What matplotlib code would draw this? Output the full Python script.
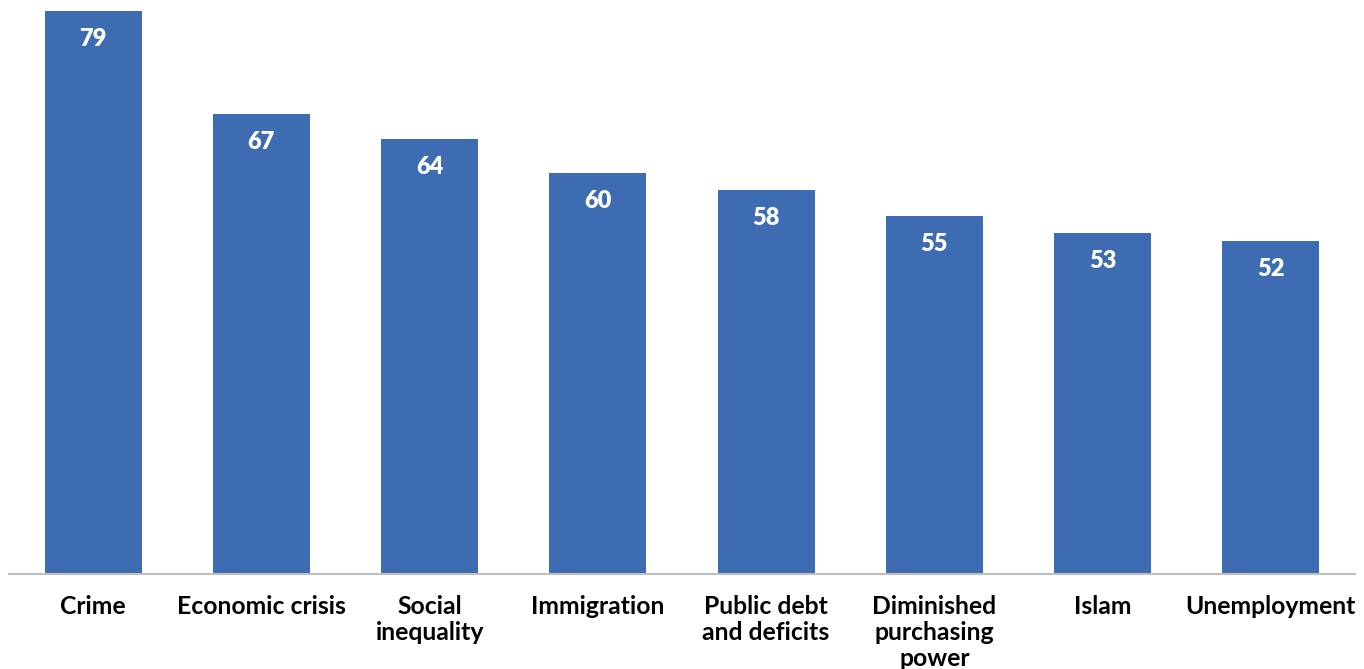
import matplotlib
matplotlib.use("Agg")
import matplotlib.pyplot as plt

categories = ["Crime", "Economic crisis", "Social\ninequality", "Immigration",
              "Public debt\nand deficits", "Diminished\npurchasing\npower", "Islam", "Unemployment"]
values = [79, 67, 64, 60, 58, 55, 53, 52]

bar_color = "#3E6CB2"
y_bottom = 13.0
px_per_unit = 230 / 27

fig = plt.figure(figsize=(13.64, 6.69), dpi=100)
ax = fig.add_axes([9/1364, (669-573.5)/669, (1355-9)/1364, 573.5/669])

x = list(range(len(categories)))
ax.bar(x, [v - y_bottom for v in values], bottom=y_bottom, width=0.577,
       color=bar_color, zorder=2)

for xi, v in zip(x, values):
    ax.text(xi, v - 3.3, str(v), ha="center", va="center", color="white",
            fontsize=17, fontweight="heavy", family="Lato")

ax.set_xlim(-0.5, 7.5)
ax.set_ylim(y_bottom, y_bottom + 573.5/px_per_unit)
ax.set_xticks(x)
ax.set_xticklabels(categories, fontsize=17.8, fontweight="bold", family="Lato",
                   linespacing=1.16, va="top")
ax.tick_params(axis="x", length=0, pad=15.5)
ax.set_yticks([])
for s in ["top", "right", "left"]:
    ax.spines[s].set_visible(False)
ax.spines["bottom"].set_color("#BFBFBF")
ax.spines["bottom"].set_linewidth(1.5)

fig.savefig("out.png", dpi=100)
